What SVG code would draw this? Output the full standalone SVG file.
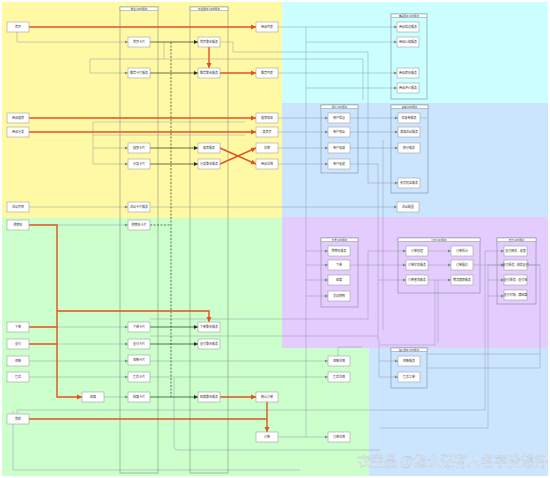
<svg xmlns="http://www.w3.org/2000/svg" width="550" height="478" viewBox="0 0 550 478">
<style>
.n{fill:#fff;stroke:#a0a0a0;stroke-width:0.6}
.grp{fill:none;stroke:#7d8c99;stroke-width:0.6}
.hd{fill:#fff;stroke:#7d8c99;stroke-width:0.5}
.lane{fill:none;stroke:#7f9473;stroke-width:0.6}
.t{font-family:"Noto Sans CJK SC","Noto Sans",sans-serif;font-size:3px;fill:#333;text-anchor:middle;dominant-baseline:central}
.r{stroke:#e2521f;stroke-width:1.4;fill:none}
.k{stroke:#24331f;stroke-width:0.7;fill:none}
.d{stroke:#24331f;stroke-width:0.7;fill:none;stroke-dasharray:2 1.5}
.g{stroke:#8595a0;stroke-width:0.5;fill:none;opacity:0.9}
.wm{font-family:"Noto Sans CJK SC",sans-serif;font-size:13.5px;fill:#ffffff;fill-opacity:0.75;stroke:#9aa0a8;stroke-width:0.4;stroke-opacity:0.6}
</style>
<defs>
<marker id="ar" markerWidth="6" markerHeight="6" refX="5" refY="3" orient="auto" markerUnits="userSpaceOnUse"><path d="M0,0.5 L5,3 L0,5.5z" fill="#e2521f"/></marker>
<marker id="ak" markerWidth="5" markerHeight="5" refX="4" refY="2.5" orient="auto" markerUnits="userSpaceOnUse"><path d="M0,0.5 L4,2.5 L0,4.5z" fill="#24331f"/></marker>
<marker id="ag" markerWidth="4" markerHeight="4" refX="3" refY="2" orient="auto" markerUnits="userSpaceOnUse"><path d="M0,0.5 L3,2 L0,3.5z" fill="#6f7f8a"/></marker>
</defs>
<rect width="550" height="478" fill="#fff"/>
<g id="background">
<rect x="2" y="2" width="280" height="216" fill="#fff9a6"/>
<rect x="282" y="2" width="266" height="101" fill="#ccffff"/>
<rect x="282" y="103" width="266" height="114" fill="#cce5ff"/>
<rect x="2" y="218" width="367" height="258" fill="#ccffcc"/>
<rect x="282" y="217" width="266" height="131" fill="#e5ccff"/>
<rect x="369" y="348" width="179" height="128" fill="#cce5ff"/>
</g>
<g id="lanes">
<rect class="lane" x="120" y="7" width="38" height="466"/>
<rect class="hd" x="120" y="7" width="38" height="3.6"/>
<text class="t" x="139" y="8.9" style="font-size:2.6px">前台 Card服务</text>
<rect class="lane" x="190" y="7" width="38" height="466"/>
<rect class="hd" x="190" y="7" width="38" height="3.6"/>
<text class="t" x="209" y="8.9" style="font-size:2.6px">中台服务 Card服务</text>
</g>
<g id="groups">
<rect class="grp" x="391" y="14" width="36" height="85"/><rect class="hd" x="391" y="14" width="36" height="3.5"/><text class="t" x="409" y="15.8" style="font-size:2.4px">商品服务 Card服务</text>
<rect class="grp" x="321" y="105" width="37" height="68"/><rect class="hd" x="321" y="105" width="37" height="3.5"/><text class="t" x="339.5" y="106.8" style="font-size:2.4px">用户 Card服务</text>
<rect class="grp" x="391" y="105" width="37" height="88"/><rect class="hd" x="391" y="105" width="37" height="3.5"/><text class="t" x="409.5" y="106.8" style="font-size:2.4px">营销 Card服务</text>
<rect class="grp" x="321" y="238" width="37" height="69"/><rect class="hd" x="321" y="238" width="37" height="3.5"/><text class="t" x="339.5" y="239.8" style="font-size:2.4px">交易 Card服务</text>
<rect class="grp" x="398" y="238" width="82" height="55"/><rect class="hd" x="398" y="238" width="82" height="3.5"/><text class="t" x="439" y="239.8" style="font-size:2.4px">订单 Card服务</text>
<rect class="grp" x="497" y="238" width="39" height="66"/><rect class="hd" x="497" y="238" width="39" height="3.5"/><text class="t" x="516.5" y="239.8" style="font-size:2.4px">支付 Card服务</text>
<rect class="grp" x="391" y="348" width="36" height="40"/><rect class="hd" x="391" y="348" width="36" height="3.5"/><text class="t" x="409" y="349.8" style="font-size:2.4px">售后服务 Card服务</text>
</g>
<g id="connectors">
<!-- thin gray connectors -->
<path class="g" d="M17,32 V42 H128" marker-end="url(#ag)"/>
<path class="g" d="M164,42 V59 H90 V73 H128" marker-end="url(#ag)"/>
<path class="g" d="M164,59 H363 V100"/>
<path class="g" d="M220,42 H233 V52 H368 V183 H398" marker-end="url(#ag)"/>
<path class="g" d="M278,27 H397" marker-end="url(#ag)"/>
<path class="g" d="M306,27 V437"/>
<path class="g" d="M306,42 H397" marker-end="url(#ag)"/>
<path class="g" d="M278,73 H397" marker-end="url(#ag)"/>
<path class="g" d="M306,88 H397" marker-end="url(#ag)"/>
<path class="g" d="M93,122 H245 M93,135 H245 M93,122 V164"/>
<path class="g" d="M93,148 H128" marker-end="url(#ag)"/>
<path class="g" d="M93,164 H128" marker-end="url(#ag)"/>
<path class="g" d="M278,118 H328" marker-end="url(#ag)"/>
<path class="g" d="M278,132 H328" marker-end="url(#ag)"/>
<path class="g" d="M278,148 H328" marker-end="url(#ag)"/>
<path class="g" d="M278,164 H328" marker-end="url(#ag)"/>
<path class="g" d="M350,118 H398" marker-end="url(#ag)"/>
<path class="g" d="M350,132 H398" marker-end="url(#ag)"/>
<path class="g" d="M350,148 H398" marker-end="url(#ag)"/>
<path class="g" d="M350,164 H378 V340"/>
<path class="g" d="M420,118 H427 M383,140 V330"/>
<path class="g" d="M29,207 H128" marker-end="url(#ag)"/>
<path class="g" d="M150,207 H397" marker-end="url(#ag)"/>
<path class="g" d="M57,225 H128" marker-end="url(#ag)"/>
<path class="g" d="M57,327 H128" marker-end="url(#ag)"/>
<path class="g" d="M57,344 H128" marker-end="url(#ag)"/>
<path class="g" d="M29,361 H128" marker-end="url(#ag)"/>
<path class="g" d="M29,377 H128" marker-end="url(#ag)"/>
<path class="g" d="M104,397 H128" marker-end="url(#ag)"/>
<path class="g" d="M150,361 H328" marker-end="url(#ag)"/>
<path class="g" d="M150,377 H328" marker-end="url(#ag)"/>
<path class="g" d="M150,319 H368 V251"/>
<path class="g" d="M150,336 H378"/>
<path class="g" d="M306,251 H328" marker-end="url(#ag)"/>
<path class="g" d="M306,265 H328" marker-end="url(#ag)"/>
<path class="g" d="M306,280 H328" marker-end="url(#ag)"/>
<path class="g" d="M306,296 H328" marker-end="url(#ag)"/>
<path class="g" d="M368,251 H406" marker-end="url(#ag)"/>
<path class="g" d="M350,265 H406" marker-end="url(#ag)"/>
<path class="g" d="M378,280 H406" marker-end="url(#ag)"/>
<path class="g" d="M428,251 H451" marker-end="url(#ag)"/>
<path class="g" d="M428,265 H451" marker-end="url(#ag)"/>
<path class="g" d="M428,280 H451" marker-end="url(#ag)"/>
<path class="g" d="M473,265 H540 V368 H427"/>
<path class="g" d="M485,251 H504" marker-end="url(#ag)"/>
<path class="g" d="M488,265 H504" marker-end="url(#ag)"/>
<path class="g" d="M488,280 H504" marker-end="url(#ag)"/>
<path class="g" d="M488,296 H504" marker-end="url(#ag)"/>
<path class="g" d="M485,251 V410 H17 V414"/>
<path class="g" d="M488,265 V428 H380"/>
<path class="g" d="M435,280 V345 H380 M438,280 V343"/>
<path class="g" d="M527,265 H540 M427,354 H540"/>
<path class="g" d="M338,356 V347 H362"/>
<path class="g" d="M379,340 V377 H398" marker-end="url(#ag)"/>
<path class="g" d="M379,361 H398" marker-end="url(#ag)"/>
<path class="g" d="M278,437 H328" marker-end="url(#ag)"/>
<path class="g" d="M174,378 V446 Q174,450 178,450 H380"/>
<path class="g" d="M13,411 V470 H300"/>
<!-- black connectors -->
<path class="k" d="M150,42 H198" marker-end="url(#ak)"/>
<path class="k" d="M150,73 H198" marker-end="url(#ak)"/>
<path class="k" d="M150,148 H198" marker-end="url(#ak)"/>
<path class="k" d="M150,164 H198" marker-end="url(#ak)"/>
<path class="k" d="M150,327 H198" marker-end="url(#ak)"/>
<path class="k" d="M150,344 H198" marker-end="url(#ak)"/>
<path class="k" d="M150,397 H198" marker-end="url(#ak)"/>
<path class="d" d="M171,42 V397 M150,225 H171"/>
<!-- red connectors -->
<path class="r" d="M29,27 H256" marker-end="url(#ar)"/>
<path class="r" d="M29,118 H256" marker-end="url(#ar)"/>
<path class="r" d="M29,132 H256" marker-end="url(#ar)"/>
<path class="r" d="M209,47 V68" marker-end="url(#ar)"/>
<path class="r" d="M220,73 H256" marker-end="url(#ar)"/>
<path class="r" d="M220,148 L256,164" marker-end="url(#ar)"/>
<path class="r" d="M220,164 L256,148" marker-end="url(#ar)"/>
<path class="r" d="M29,225 H57 V397 H82" marker-end="url(#ar)"/>
<path class="r" d="M57,311 H209 V322" marker-end="url(#ar)"/>
<path class="r" d="M29,327 H57 M29,344 H57"/>
<path class="r" d="M220,397 H256" marker-end="url(#ar)"/>
<path class="r" d="M29,419 H267"/>
<path class="r" d="M267,402 V432" marker-end="url(#ar)"/>
</g>
<g id="nodes">
<g id="L1"><rect class="n" x="7" y="22" width="22" height="10"/><text class="t" x="18" y="27">首页</text></g>
<g id="L2"><rect class="n" x="7" y="113" width="22" height="10"/><text class="t" x="18" y="118">商品搜索</text></g>
<g id="L3"><rect class="n" x="7" y="127" width="22" height="10"/><text class="t" x="18" y="132">商品分类</text></g>
<g id="L4"><rect class="n" x="7" y="202" width="22" height="10"/><text class="t" x="18" y="207">活动页面</text></g>
<g id="L5"><rect class="n" x="7" y="220" width="22" height="10"/><text class="t" x="18" y="225">购物车</text></g>
<g id="L6"><rect class="n" x="7" y="322" width="22" height="10"/><text class="t" x="18" y="327">下单</text></g>
<g id="L7"><rect class="n" x="7" y="339" width="22" height="10"/><text class="t" x="18" y="344">支付</text></g>
<g id="L8"><rect class="n" x="7" y="356" width="22" height="10"/><text class="t" x="18" y="361">退款</text></g>
<g id="L9"><rect class="n" x="7" y="372" width="22" height="10"/><text class="t" x="18" y="377">售后</text></g>
<g id="L10"><rect class="n" x="7" y="414" width="22" height="10"/><text class="t" x="18" y="419">我的</text></g>
<g id="M1"><rect class="n" x="82" y="392" width="22" height="10"/><text class="t" x="93" y="397">结算</text></g>
<g id="A1"><rect class="n" x="128" y="37" width="22" height="10"/><text class="t" x="139" y="42">首页卡片</text></g>
<g id="A2"><rect class="n" x="128" y="68" width="22" height="10"/><text class="t" x="139" y="73">推荐卡片服务</text></g>
<g id="A3"><rect class="n" x="128" y="143" width="22" height="10"/><text class="t" x="139" y="148">搜索卡片</text></g>
<g id="A4"><rect class="n" x="128" y="159" width="22" height="10"/><text class="t" x="139" y="164">分类卡片</text></g>
<g id="A5"><rect class="n" x="128" y="202" width="22" height="10"/><text class="t" x="139" y="207">活动卡片服务</text></g>
<g id="A6"><rect class="n" x="128" y="220" width="22" height="10"/><text class="t" x="139" y="225">购物车卡片</text></g>
<g id="A7"><rect class="n" x="128" y="322" width="22" height="10"/><text class="t" x="139" y="327">下单卡片</text></g>
<g id="A8"><rect class="n" x="128" y="339" width="22" height="10"/><text class="t" x="139" y="344">支付卡片</text></g>
<g id="A9"><rect class="n" x="128" y="355" width="22" height="10"/><text class="t" x="139" y="360">退款卡片</text></g>
<g id="A10"><rect class="n" x="128" y="372" width="22" height="10"/><text class="t" x="139" y="377">售后卡片</text></g>
<g id="A11"><rect class="n" x="128" y="392" width="22" height="10"/><text class="t" x="139" y="397">结算卡片</text></g>
<g id="B1"><rect class="n" x="198" y="37" width="22" height="10"/><text class="t" x="209" y="42">首页聚合服务</text></g>
<g id="B2"><rect class="n" x="198" y="68" width="22" height="10"/><text class="t" x="209" y="73">推荐聚合服务</text></g>
<g id="B3"><rect class="n" x="198" y="143" width="22" height="10"/><text class="t" x="209" y="148">搜索服务</text></g>
<g id="B4"><rect class="n" x="198" y="159" width="22" height="10"/><text class="t" x="209" y="164">分类聚合服务</text></g>
<g id="B5"><rect class="n" x="198" y="322" width="22" height="10"/><text class="t" x="209" y="327">下单聚合服务</text></g>
<g id="B6"><rect class="n" x="198" y="339" width="22" height="10"/><text class="t" x="209" y="344">支付聚合服务</text></g>
<g id="B7"><rect class="n" x="198" y="392" width="22" height="10"/><text class="t" x="209" y="397">结算聚合服务</text></g>
<g id="C1"><rect class="n" x="256" y="22" width="22" height="10"/><text class="t" x="267" y="27">商品列表</text></g>
<g id="C2"><rect class="n" x="256" y="68" width="22" height="10"/><text class="t" x="267" y="73">推荐列表</text></g>
<g id="C3"><rect class="n" x="256" y="113" width="22" height="10"/><text class="t" x="267" y="118">搜索结果</text></g>
<g id="C4"><rect class="n" x="256" y="127" width="22" height="10"/><text class="t" x="267" y="132">类目页</text></g>
<g id="C5"><rect class="n" x="256" y="143" width="22" height="10"/><text class="t" x="267" y="148">详情</text></g>
<g id="C6"><rect class="n" x="256" y="159" width="22" height="10"/><text class="t" x="267" y="164">商品详情</text></g>
<g id="C7"><rect class="n" x="256" y="392" width="22" height="10"/><text class="t" x="267" y="397">确认订单</text></g>
<g id="C8"><rect class="n" x="256" y="432" width="22" height="10"/><text class="t" x="267" y="437">订单</text></g>
<g id="D1"><rect class="n" x="328" y="356" width="22" height="10"/><text class="t" x="339" y="361">退款详情</text></g>
<g id="D2"><rect class="n" x="328" y="372" width="22" height="10"/><text class="t" x="339" y="377">售后详情</text></g>
<g id="D3"><rect class="n" x="328" y="432" width="22" height="10"/><text class="t" x="339" y="437">订单详情</text></g>
<g id="G1n1"><rect class="n" x="397" y="22" width="22" height="10"/><text class="t" x="408" y="27">商品信息服务</text></g>
<g id="G1n2"><rect class="n" x="397" y="37" width="22" height="10"/><text class="t" x="408" y="42">商品价格服务</text></g>
<g id="G1n3"><rect class="n" x="397" y="68" width="22" height="10"/><text class="t" x="408" y="73">商品库存服务</text></g>
<g id="G1n4"><rect class="n" x="397" y="83" width="22" height="10"/><text class="t" x="408" y="88">商品评价服务</text></g>
<g id="G2n1"><rect class="n" x="328" y="113" width="22" height="10"/><text class="t" x="339" y="118">用户信息</text></g>
<g id="G2n2"><rect class="n" x="328" y="127" width="22" height="10"/><text class="t" x="339" y="132">用户地址</text></g>
<g id="G2n3"><rect class="n" x="328" y="143" width="22" height="10"/><text class="t" x="339" y="148">用户收藏</text></g>
<g id="G2n4"><rect class="n" x="328" y="159" width="22" height="10"/><text class="t" x="339" y="164">用户足迹</text></g>
<g id="G3n1"><rect class="n" x="398" y="113" width="22" height="10"/><text class="t" x="409" y="118">优惠券服务</text></g>
<g id="G3n2"><rect class="n" x="398" y="127" width="22" height="10"/><text class="t" x="409" y="132">满减活动服务</text></g>
<g id="G3n3"><rect class="n" x="398" y="143" width="22" height="10"/><text class="t" x="409" y="148">积分服务</text></g>
<g id="G3n4"><rect class="n" x="398" y="178" width="22" height="10"/><text class="t" x="409" y="183">会员权益服务</text></g>
<g id="E1"><rect class="n" x="397" y="202" width="22" height="10"/><text class="t" x="408" y="207">活动配置</text></g>
<g id="G4n1"><rect class="n" x="328" y="246" width="22" height="10"/><text class="t" x="339" y="251">购物车服务</text></g>
<g id="G4n2"><rect class="n" x="328" y="260" width="22" height="10"/><text class="t" x="339" y="265">下单</text></g>
<g id="G4n3"><rect class="n" x="328" y="275" width="22" height="10"/><text class="t" x="339" y="280">结算</text></g>
<g id="G4n4"><rect class="n" x="328" y="291" width="22" height="10"/><text class="t" x="339" y="296">交易快照</text></g>
<g id="G5n1"><rect class="n" x="406" y="246" width="22" height="10"/><text class="t" x="417" y="251">订单创建</text></g>
<g id="G5n2"><rect class="n" x="406" y="260" width="22" height="10"/><text class="t" x="417" y="265">订单状态服务</text></g>
<g id="G5n3"><rect class="n" x="406" y="275" width="22" height="10"/><text class="t" x="417" y="280">订单查询服务</text></g>
<g id="G5n4"><rect class="n" x="451" y="246" width="22" height="10"/><text class="t" x="462" y="251">订单拆分</text></g>
<g id="G5n5"><rect class="n" x="451" y="260" width="22" height="10"/><text class="t" x="462" y="265">订单履约</text></g>
<g id="G5n6"><rect class="n" x="451" y="275" width="22" height="10"/><text class="t" x="462" y="280">物流跟踪服务</text></g>
<g id="G6n1"><rect class="n" x="504" y="246" width="23" height="10"/><text class="t" x="515.5" y="251">支付网关 - 收银</text></g>
<g id="G6n2"><rect class="n" x="504" y="260" width="23" height="10"/><text class="t" x="515.5" y="265">支付渠道 - 微信支付</text></g>
<g id="G6n3"><rect class="n" x="504" y="275" width="23" height="10"/><text class="t" x="515.5" y="280">支付渠道 - 支付宝</text></g>
<g id="G6n4"><rect class="n" x="504" y="290" width="23" height="10"/><text class="t" x="515.5" y="295">支付对账 - 清结算</text></g>
<g id="G7n1"><rect class="n" x="398" y="356" width="22" height="10"/><text class="t" x="409" y="361">退款服务</text></g>
<g id="G7n2"><rect class="n" x="398" y="372" width="22" height="10"/><text class="t" x="409" y="377">售后工单</text></g>
</g>
<text class="wm" x="357" y="466">衣空品 @怎么还有人名字没想好</text>
</svg>
